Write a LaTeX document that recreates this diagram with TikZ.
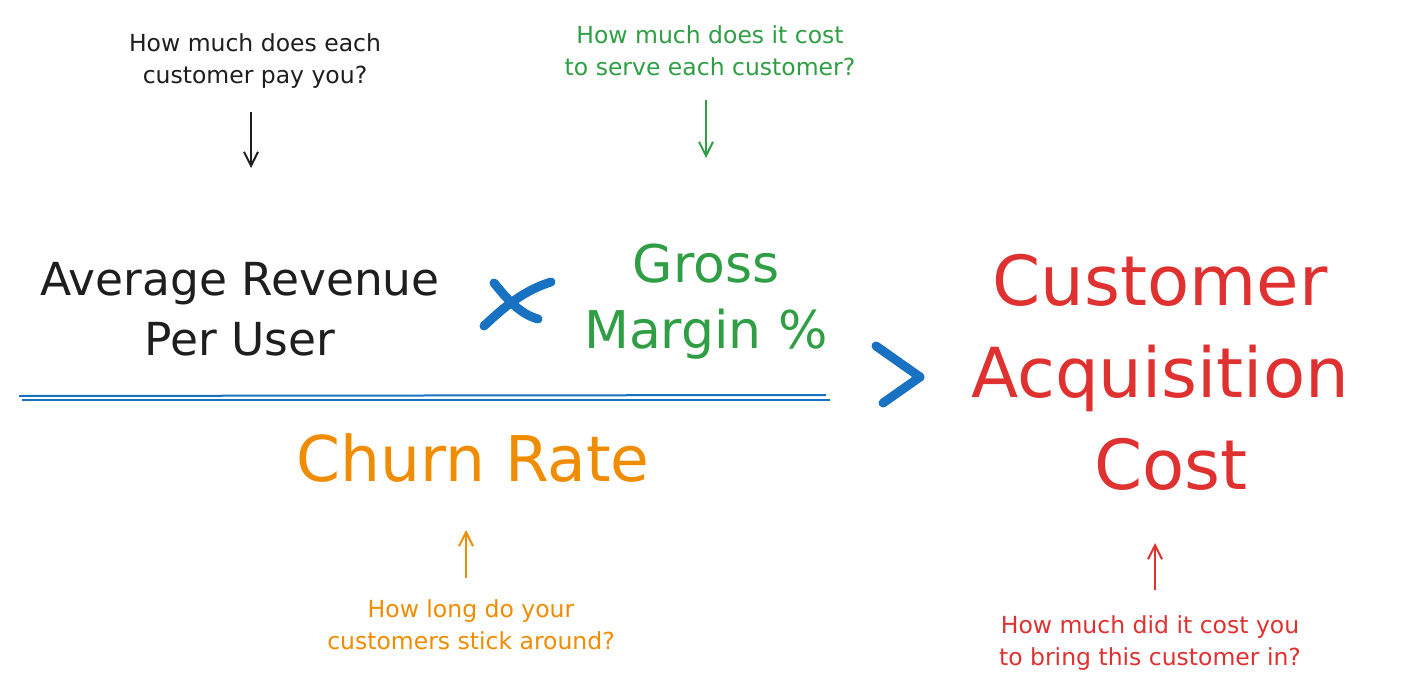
\documentclass[tikz,border=0pt]{standalone}
\usepackage{fontspec}
\setmainfont{DejaVu Sans}
\usetikzlibrary{arrows.meta}
\definecolor{ink}{HTML}{1E1E1E}
\definecolor{xgreen}{HTML}{2F9E44}
\definecolor{xorange}{HTML}{F08C00}
\definecolor{xred}{HTML}{E03131}
\definecolor{xblue}{HTML}{1971C2}
\tikzset{
  note/.style={align=center,inner sep=0pt,font=\fontsize{23.5}{32}\selectfont},
  big/.style={align=center,inner sep=0pt},
  hint/.style={line width=2pt,-{Straight Barb[length=14pt,width=14pt,line width=2pt]}},
  sym/.style={xblue,line width=9pt,line cap=round,line join=round},
}
\begin{document}
\begin{tikzpicture}[x=1pt,y=-1pt]
\useasboundingbox[fill=white] (0,0) rectangle (1405,695);
% questions
\node[note,ink] (q1) at (255,61) {How much does each\\customer pay you?};
\node[note,xgreen] (q2) at (710,51) {How much does it cost\\to serve each customer?};
\node[note,xorange] (q3) at (471,625) {How long do your\\customers stick around?};
\node[note,xred] (q4) at (1150,643) {How much did it cost you\\to bring this customer in?};
% main terms
\node[big,ink,font=\fontsize{45.5}{60}\selectfont] (arpu) at (240,309) {Average Revenue\\Per User};
\node[big,xgreen,font=\fontsize{52}{66}\selectfont] (gm) at (706,302) {Gross\\Margin \%};
\node[big,xorange,font=\fontsize{63}{60}\selectfont] (churn) at (473,458) {Churn Rate};
\node[big,xred,font=\fontsize{69}{92}\selectfont] (cac) at (1160,372) {Customer\\Acquisition\\\ Cost};
% arrows
\coordinate (a1s) at (251,112); \coordinate (a1e) at (251,168);
\coordinate (a2s) at (706,100); \coordinate (a2e) at (706,158);
\coordinate (a3s) at (466,578); \coordinate (a3e) at (466,530);
\coordinate (a4s) at (1155,590); \coordinate (a4e) at (1155,543);
\draw[hint,ink] (a1s) -- (a1e);
\draw[hint,xgreen] (a2s) -- (a2e);
\draw[hint,xorange] (a3s) -- (a3e);
\draw[hint,xred] (a4s) -- (a4e);
% fraction line
\coordinate (f1) at (19,396); \coordinate (f2) at (826,395);
\coordinate (f3) at (22,400); \coordinate (f4) at (830,400);
\draw[xblue,line width=2pt] (f1) -- (f2);
\draw[xblue,line width=2pt] (f3) -- (f4);
% times sign
\coordinate (t1) at (494,283); \coordinate (t2) at (538,319);
\coordinate (t3) at (484,326); \coordinate (t4) at (551,282);
\draw[sym] (t1) .. controls (508,300) and (520,314) .. (t2);
\draw[sym] (t3) .. controls (505,306) and (525,290) .. (t4);
% greater sign
\coordinate (g1) at (876,346); \coordinate (g2) at (920,377); \coordinate (g3) at (883,403);
\draw[sym] (g1) -- (g2) -- (g3);
\end{tikzpicture}
\end{document}
